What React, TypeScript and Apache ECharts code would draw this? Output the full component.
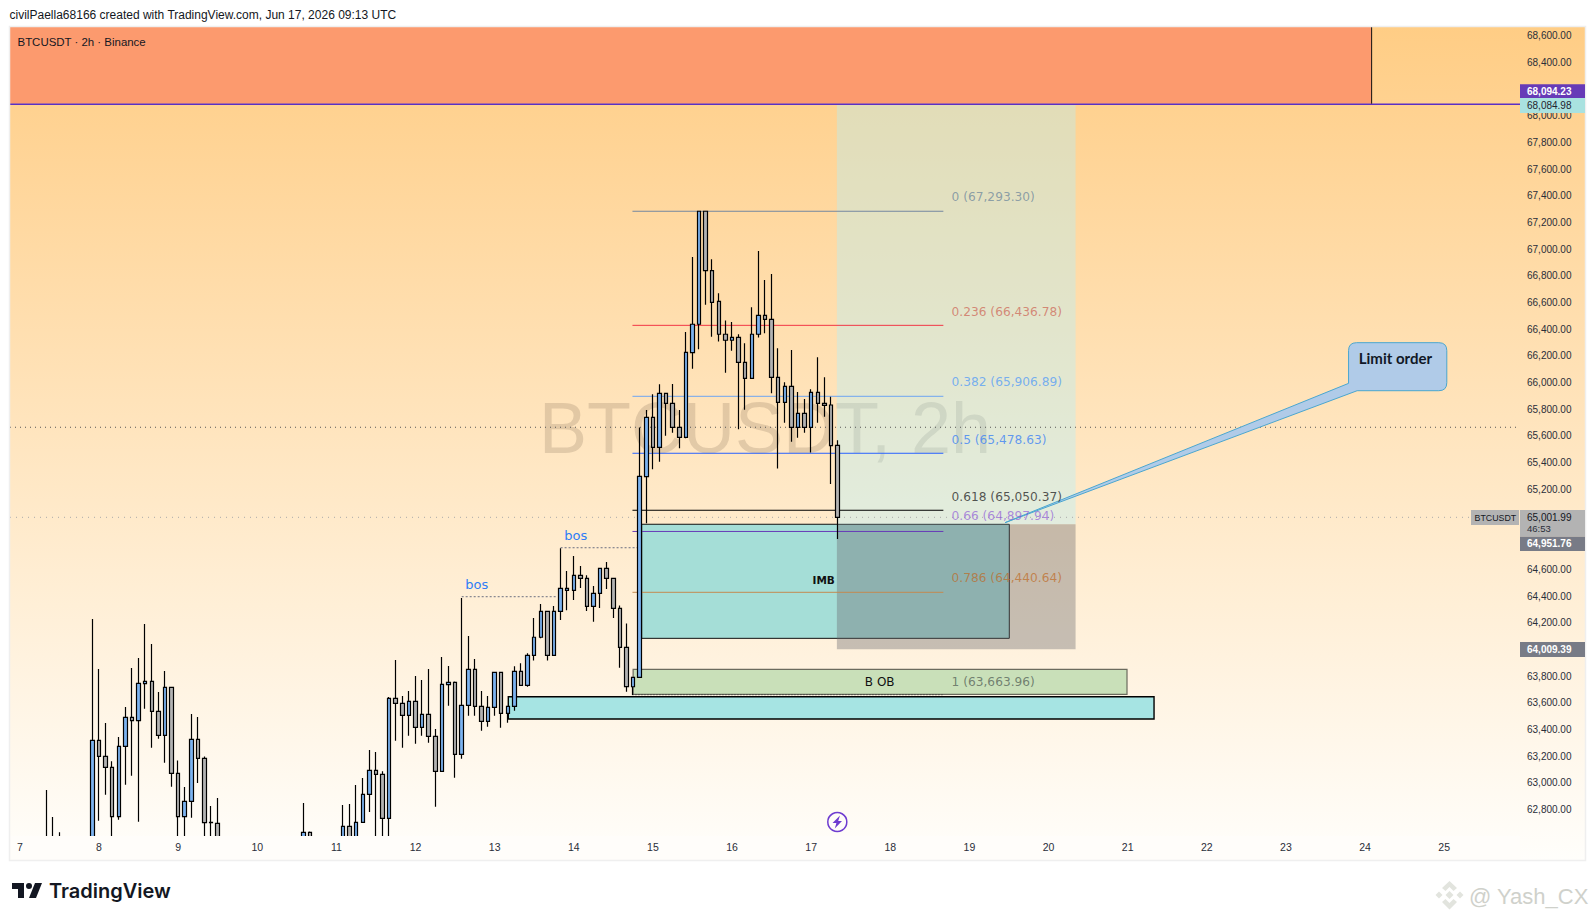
import React, { useEffect, useRef } from "react";
import * as echarts from "echarts";

// ---------- data (slot = index of the 2h bar, open, close, low, high) ----------
const dayTicks = ["7","8","9","10","11","12","13","14","15","16","17","18","19","20","21","22","23","24","25"];
const slotCount = 229;
const hiddenPriceTicks = [68200, 65000, 64800, 64000];

const candlesJun7to9: number[][] = [
  [5,62460,62480,62450,62946],[6,62480,62470,62450,62744],[7,62470,62500,62450,62629],
  [12,62500,63318,62450,64228],[13,63318,63198,62716,63853],[14,63198,63116,62911,63448],
  [15,63116,62746,62550,63161],[16,62746,63273,62724,63343],[17,63273,63491,62986,63568],
  [18,63491,63466,63053,63860],[19,63466,63745,62709,63935],[20,63743,63760,63556,64190],
  [21,63760,63536,63263,64040],[22,63536,63356,63331,63681],[23,63356,63716,63151,63838],
  [24,63716,63071,62971,63716],[25,63071,62746,62550,63168],[26,62746,62861,62550,62968],
  [27,62861,63326,62739,63516],[28,63326,63183,62998,63493],[29,63183,62701,62550,63198],
  [30,62703,62701,62570,62826],[31,62696,62500,62450,62886],
];
const candlesJun10to12: number[][] = [
  [44,62500,62629,62450,62849],[45,62629,62500,62450,62636],
  [50,62500,62674,62450,62834],[51,62674,62520,62450,62841],[52,62520,62704,62480,62983],
  [53,62704,62913,62704,63036],[54,62913,63093,62781,63246],[55,63093,63063,62550,63231],
  [56,63063,62734,62550,63086],[57,62734,63633,62550,63643],[58,63633,63596,63316,63920],
  [59,63596,63506,63263,63651],[60,63506,63611,63353,63688],[61,63611,63416,63293,63800],
  [62,63416,63513,63353,63770],[63,63513,63348,63301,63853],[64,63348,63086,62821,63403],
  [65,63086,63738,63086,63943],[66,63736,63753,63578,63875],[67,63753,63213,63038,63760],
  [68,63213,63581,63181,64385],[69,63581,63850,63503,64100],[70,63850,63573,63503,63928],
  [71,63573,63461,63391,63688],[72,63461,63566,63421,63651],[73,63566,63828,63503,63828],
];
const candlesJun13to14: number[][] = [
  [74,63828,63521,63413,63828],[75,63521,63573,63450,63573],[76,63573,63836,63541,63873],
  [77,63836,63731,63731,63896],[78,63731,63956,63721,63971],[79,63956,64091,63916,64235],
  [80,64091,64285,64083,64340],[81,64285,63956,63916,64285],[82,63956,64285,63956,64325],
  [83,64285,64458,64220,64758],[84,64443,64458,64293,64588],[85,64443,64555,64370,64700],
  [86,64555,64533,64460,64625],[87,64533,64323,64288,64555],[88,64323,64420,64208,64475],
  [89,64420,64608,64310,64608],[90,64608,64533,64453,64655],[91,64533,64308,64235,64533],
  [92,64308,64016,63863,64330],[93,64016,63721,63683,64195],[94,63720,63791,63658,63791],
];
const candlesJun15to17: number[][] = [
  [95,63791,65297,63791,65664],[96,65295,65739,64945,65794],[97,65739,65515,65350,65912],
  [98,65515,65919,65407,65987],[99,65919,65844,65602,65919],[100,65844,65664,65624,65989],
  [101,65664,65589,65507,65794],[102,65589,66227,65582,66379],[103,66224,66437,66104,66941],
  [104,66437,67284,66250,67284],[105,67284,66839,66584,67284],[106,66839,66601,66344,66924],
  [107,66609,66362,66307,66669],[108,66362,66317,66074,66466],[109,66317,66339,66239,66454],
  [110,66339,66152,65650,66362],[111,66152,66032,65797,66294],[112,66032,66362,66032,66564],
  [113,66362,66504,66337,66986],[114,66504,66474,66369,66769],[115,66474,66039,65919,66814],
  [116,66039,65852,65355,66257],[117,65852,65972,65699,66002],[118,65972,65664,65557,66244],
  [119,65664,65769,65587,65929],[120,65769,65664,65624,65877],[121,65664,65927,65475,65949],
  [122,65927,65844,65699,66189],[123,65844,65829,65744,66039],[124,65832,65527,65239,65894],
  [125,65529,64990,64827,65567],
];

// [label, level as drawn on the axis, line colour, label colour]
const fibLevels: [string, number, string, string][] = [
  ["0 (67,293.30)", 67284, "#7487a0", "rgba(90,120,150,0.65)"],
  ["0.236 (66,436.78)", 66429, "#f23645", "rgba(205,100,85,0.72)"],
  ["0.382 (65,906.89)", 65897, "#6fa6f2", "rgba(90,160,245,0.8)"],
  ["0.5 (65,478.63)", 65470, "#2962ff", "rgba(60,130,245,0.78)"],
  ["0.618 (65,050.37)", 65043, "#000000", "rgba(40,40,40,0.78)"],
  ["0.66 (64,897.94)", 64884, "#673ab7", "rgba(130,70,215,0.6)"],
  ["0.786 (64,440.64)", 64428, "#c48a50", "rgba(190,105,35,0.7)"],
  ["1 (63,663.96)", 63660, "#333333", "rgba(70,80,75,0.68)"],
];
const fibLabelPrices = [67390, 66528, 66004, 65573, 65144, 65002, 64533, 63759];
const fibSpan = [93.9, 141.05];
const bosLines = [
  { from: 68, to: 82.5, price: 64395, labelSlot: 70.3, labelPrice: 64490 },
  { from: 83, to: 94.6, price: 64762, labelSlot: 85.3, labelPrice: 64857 },
];
const lastPriceLevel = 64990;
const cursorLevel = 65665;
const topLevel = 68086;

const MIN_P = 62600;
const MAX_P = 68665;
const GRID = { left: 10, top: 27, width: 1510, height: 809.2 };

const fmt = (v: number) => v.toLocaleString("en-US", { minimumFractionDigits: 2, maximumFractionDigits: 2 });
const AXIS_FONT = "'Liberation Sans', Arial, sans-serif";
const FIB_FONT = "'DejaVu Sans', sans-serif";

// boxes: slot range, price range and look
const zones = [
  { t0: -0.5, t1: 206, p0: 68090, p1: MAX_P, fill: "#fc9a6e", stroke: "none", lw: 0 },
  { t0: 95.3, t1: 151.05, p0: 64083, p1: 64938, fill: "#a5ded7", stroke: "#111111", lw: 1 },
  { t0: 94, t1: 168.9, p0: 63663, p1: 63851, fill: "#c9e0b9", stroke: "#6b6b5e", lw: 1.2 },
  { t0: 75.07, t1: 173, p0: 63478, p1: 63645, fill: "#a6e4e3", stroke: "#000000", lw: 1.4 },
  { t0: 124.9, t1: 161.1, p0: 64938, p1: 68080, fill: "rgba(175,240,255,0.36)", stroke: "none", lw: 0 },
  { t0: 124.9, t1: 161.1, p0: 64001, p1: 64938, fill: "rgba(105,105,110,0.38)", stroke: "none", lw: 0 },
];
const callout = {
  tip: [150.4, 64950], left: 202.5, right: 217.4, top: 66299, bottom: 65939, tailTop: 65994, tailBottom: 203.8,
  textSlot: 209.6, textPrice: 66187,
};

echarts.graphic.registerShape(
  "tvLogo",
  echarts.graphic.extendPath("M14 6H2v6h6v9h6V6Zm12 15h-7l6-15h7l-6 15Zm-7-9a3 3 0 1 0 0-6 3 3 0 0 0 0 6Z", {})
);

const tag = (x: number, y: number, w: number, h: number, fill: string) => ({
  type: "rect", z: 20, shape: { x, y, width: w, height: h, r: 0 }, style: { fill }, silent: true,
});
const txt = (x: number, y: number, text: string, color: string, font: string, extra: any = {}) => ({
  type: "text", z: 21, x, y, silent: true,
  style: { text, fill: color, font, textVerticalAlign: "middle", verticalAlign: "middle", ...extra },
});

export default function App() {
  const ref = useRef<HTMLDivElement>(null);
  useEffect(() => {
    document.body.style.margin = "0";
    document.body.style.background = "#fff";
    const chart = echarts.init(ref.current!, undefined, { renderer: "svg", width: 1595, height: 921 });

    const rows: any[] = Array.from({ length: slotCount }, () => ["-", "-", "-", "-"]);
    [candlesJun7to9, candlesJun10to12, candlesJun13to14, candlesJun15to17].forEach((seg) =>
      seg.forEach(([s, o, c, l, h]) => { rows[s] = [o, c, l, h]; })
    );
    const categories = Array.from({ length: slotCount }, (_, i) =>
      (i - 1) % 12 === 0 && dayTicks[(i - 1) / 12] ? dayTicks[(i - 1) / 12] : ""
    );

    const lineSeries = (pts: number[][], color: string, width: number, type: any, z = 2) => ({
      type: "line", xAxisIndex: 1, yAxisIndex: 0, data: pts, showSymbol: false, symbol: "none", silent: true, z,
      lineStyle: { color, width, type }, animation: false,
    });

    const option: any = {
      animation: false,
      backgroundColor: "#ffffff",
      grid: { ...GRID, containLabel: false, show: false },
      xAxis: [
        {
          type: "category", data: categories, gridIndex: 0, boundaryGap: true, z: 8,
          axisLine: { show: false }, axisTick: { show: false }, splitLine: { show: false },
          axisLabel: {
            interval: (i: number) => (i - 1) % 12 === 0 && !!categories[i],
            color: "#2a2e39", fontSize: 10.5, fontFamily: AXIS_FONT, margin: 5, hideOverlap: false,
          },
        },
        { type: "value", gridIndex: 0, min: -0.5, max: slotCount - 0.5, show: false, splitLine: { show: false } },
      ],
      yAxis: [
        {
          type: "value", position: "right", min: MIN_P, max: MAX_P, interval: 200,
          axisLine: { show: false }, axisTick: { show: false }, splitLine: { show: false },
          axisLabel: {
            showMinLabel: false, showMaxLabel: false, color: "#2a2e39", fontSize: 10, fontFamily: AXIS_FONT, margin: 7,
            formatter: (v: number) => (hiddenPriceTicks.includes(v) ? "" : fmt(v)),
          },
        },
      ],
      series: [
        {
          type: "custom", xAxisIndex: 1, yAxisIndex: 0, silent: true, z: 1, clip: false,
          data: zones.map((_, i) => [i]), encode: { x: 0 },
          renderItem: (p: any, api: any) => {
            const zn = zones[p.dataIndex];
            const a = api.coord([zn.t0, zn.p1]);
            const b = api.coord([zn.t1, zn.p0]);
            return {
              type: "rect",
              shape: { x: a[0], y: a[1], width: b[0] - a[0], height: b[1] - a[1] },
              style: { fill: zn.fill, stroke: zn.stroke, lineWidth: zn.lw },
            };
          },
        },
        ...fibLevels.map((f) =>
          lineSeries([[fibSpan[0], f[1]], [fibSpan[1], f[1]]], f[2], 1, f[0].startsWith("1 ") ? [1, 2] : "solid")
        ),
        lineSeries([[-0.5, cursorLevel], [slotCount - 0.5, cursorLevel]], "#555555", 1, [1, 4]),
        lineSeries([[-0.5, lastPriceLevel], [221.1, lastPriceLevel]], "#aaaaaa", 1, [1, 5]),
        lineSeries([[-0.5, topLevel], [slotCount - 0.5, topLevel]], "#5b2fc5", 1.4, "solid", 3),
        lineSeries([[206, 68090], [206, MAX_P]], "#111111", 1, "solid", 3),
        ...bosLines.map((b) => lineSeries([[b.from, b.price], [b.to, b.price]], "#6b6f80", 1, [2, 2])),
        {
          type: "candlestick", xAxisIndex: 0, yAxisIndex: 0, data: rows, barWidth: 4, z: 4, silent: true, large: false,
          itemStyle: { color: "#7cb3f0", color0: "#b3b3b3", borderColor: "#000000", borderColor0: "#000000", borderWidth: 1.2 },
        },
        {
          type: "custom", xAxisIndex: 1, yAxisIndex: 0, silent: true, z: 5, clip: false,
          data: [[0]], encode: { x: 0 },
          renderItem: (_p: any, api: any) => {
            const c = callout;
            const tip = api.coord(c.tip);
            const [l, t] = api.coord([c.left, c.top]);
            const [r, b] = api.coord([c.right, c.bottom]);
            const tailY = api.coord([c.left, c.tailTop])[1];
            const tailX = api.coord([c.tailBottom, c.bottom])[0];
            const k = 8;
            const d =
              `M${tip[0]} ${tip[1]}L${l} ${tailY}L${l} ${t + k}Q${l} ${t} ${l + k} ${t}L${r - k} ${t}Q${r} ${t} ${r} ${t + k}` +
              `L${r} ${b - k}Q${r} ${b} ${r - k} ${b}L${tailX} ${b}Z`;
            const children: any[] = [
              {
                type: "path",
                shape: { pathData: d, x: tip[0], y: t, width: r - tip[0], height: tip[1] - t, layout: "cover" },
                style: { fill: "#b0cbe8", stroke: "#4aa6cf", lineWidth: 1 },
              },
            ];
            const tc = api.coord([c.textSlot, c.textPrice]);
            children.push({
              type: "text", x: tc[0], y: tc[1],
              style: { text: "Limit order", fill: "#111827", font: "bold 15px Lato, sans-serif", align: "center", verticalAlign: "middle" },
            });
            fibLevels.forEach((f, i) => {
              const q = api.coord([142.3, fibLabelPrices[i]]);
              children.push({
                type: "text", x: q[0], y: q[1],
                style: { text: f[0], fill: f[3], font: `12.2px ${FIB_FONT}`, align: "left", verticalAlign: "middle" },
              });
            });
            bosLines.forEach((bl) => {
              const q = api.coord([bl.labelSlot, bl.labelPrice]);
              children.push({
                type: "text", x: q[0], y: q[1],
                style: { text: "bos", fill: "#2f7df6", font: `13px ${FIB_FONT}`, align: "center", verticalAlign: "middle" },
              });
            });
            const imb = api.coord([122.9, 64520]);
            children.push({
              type: "text", x: imb[0], y: imb[1],
              style: { text: "IMB", fill: "#111111", font: `bold 10.5px ${FIB_FONT}`, align: "center", verticalAlign: "middle" },
            });
            const ob = api.coord([131.4, 63759]);
            children.push({
              type: "text", x: ob[0], y: ob[1],
              style: { text: "B OB", fill: "#111111", font: `12px ${FIB_FONT}`, align: "center", verticalAlign: "middle" },
            });
            return { type: "group", children };
          },
        },
      ],
      graphic: {
        elements: [
          {
            type: "rect", z: -10, silent: true, shape: { x: 10, y: 27, width: 1575, height: 833 },
            style: {
              fill: new echarts.graphic.LinearGradient(0, 0, 0, 1, [
                { offset: 0, color: "rgb(255,205,133)" },
                { offset: 1, color: "rgb(255,254,251)" },
              ]),
            },
          },
          {
            type: "rect", z: 7, silent: true, shape: { x: 10.2, y: 836, width: 1510, height: 24 },
            style: { fill: "rgb(255,253,250)" },
          },
          {
            type: "rect", z: 7, silent: true, shape: { x: 9.5, y: 26.5, width: 1576, height: 834 },
            style: { fill: "none", stroke: "#efefef", lineWidth: 1.5 },
          },
          {
            type: "text", z: 0, x: 765, y: 428, silent: true,
            style: {
              text: "BTCUSDT, 2h", fill: "rgba(110,90,70,0.2)", font: `72px 'Liberation Sans', sans-serif`,
              align: "center", verticalAlign: "middle",
            },
          },
          txt(9.5, 14.5, "civilPaella68166 created with TradingView.com, Jun 17, 2026 09:13 UTC", "#131722", `12px ${AXIS_FONT}`),
          txt(17.5, 41.7, "BTCUSDT · 2h · Binance", "#131722", `11.45px ${AXIS_FONT}`),

          tag(1520, 84.3, 65, 13.7, "#673ab7"),
          txt(1527, 91.2, "68,094.23", "#ffffff", `bold 10px ${AXIS_FONT}`),
          tag(1520, 98, 65, 15, "#a9e2e0"),
          txt(1527, 105.5, "68,084.98", "#1f2430", `10px ${AXIS_FONT}`),
          tag(1471, 510, 48, 15, "#b3b3b3"),
          txt(1474.6, 517.6, "BTCUSDT", "#131722", `8.8px ${AXIS_FONT}`),
          tag(1520, 510, 65, 26.7, "#b3b3b3"),
          txt(1527, 517.3, "65,001.99", "#131722", `10px ${AXIS_FONT}`),
          txt(1527, 528.6, "46:53", "#2a2e39", `9.5px ${AXIS_FONT}`),
          tag(1520, 536.7, 65, 14.3, "#787b86"),
          txt(1527, 543.8, "64,951.76", "#ffffff", `bold 10px ${AXIS_FONT}`),
          tag(1520, 642, 65, 15, "#787b86"),
          txt(1527, 649.5, "64,009.39", "#ffffff", `bold 10px ${AXIS_FONT}`),

          { type: "circle", z: 21, silent: true, shape: { cx: 837.3, cy: 822, r: 9.5 }, style: { fill: "rgba(255,255,255,0.3)", stroke: "#6e3cd0", lineWidth: 1.5 } },
          {
            type: "polygon", z: 21, silent: true,
            shape: { points: [[840, 815.5], [832.5, 823], [836.4, 823], [834.8, 828.5], [842, 821], [838.2, 821]] },
            style: { fill: "#6e3cd0" },
          },

          { type: "tvLogo", z: 21, x: 10, y: 877, scaleX: 1, scaleY: 1, silent: true, style: { fill: "#131722" } },
          txt(49, 891, "TradingView", "#131722", `600 20px Inter, sans-serif`),

          { type: "polygon", z: 21, silent: true, shape: { points: [[1449.5, 881], [1457, 888], [1453.5, 891], [1449.5, 887], [1445.5, 891], [1442, 888]] }, style: { fill: "#e2e4de" } },
          { type: "polygon", z: 21, silent: true, shape: { points: [[1449.5, 891], [1453.5, 895], [1449.5, 899], [1445.5, 895]] }, style: { fill: "#e2e4de" } },
          { type: "polygon", z: 21, silent: true, shape: { points: [[1439, 891.5], [1442.5, 895], [1439, 898.5], [1435.5, 895]] }, style: { fill: "#e2e4de" } },
          { type: "polygon", z: 21, silent: true, shape: { points: [[1460, 891.5], [1463.5, 895], [1460, 898.5], [1456.5, 895]] }, style: { fill: "#e2e4de" } },
          { type: "polygon", z: 21, silent: true, shape: { points: [[1442, 902], [1445.5, 899], [1449.5, 903], [1453.5, 899], [1457, 902], [1449.5, 909.5]] }, style: { fill: "#e2e4de" } },
          txt(1469, 896.7, "@ Yash_CX", "#cfd1cb", `22px 'Liberation Sans', sans-serif`),
        ],
      },
    };
    chart.setOption(option);
    return () => chart.dispose();
  }, []);
  return <div ref={ref} style={{ width: 1595, height: 921 }} />;
}
